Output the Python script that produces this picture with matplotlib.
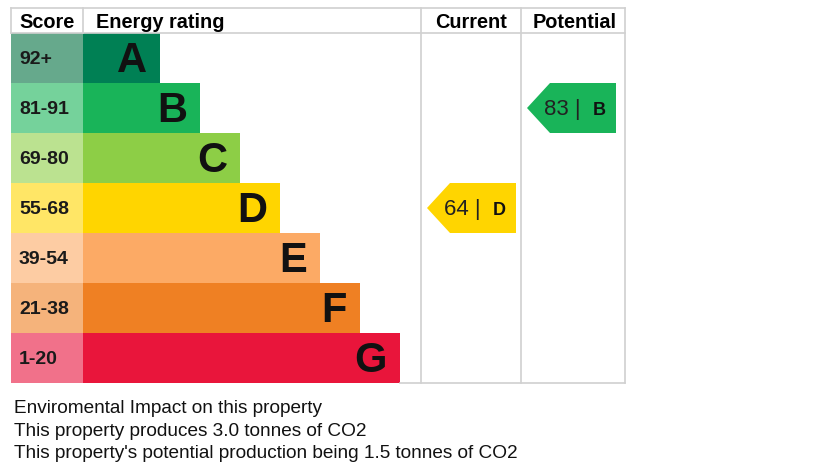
import matplotlib
matplotlib.use("Agg")
import matplotlib.pyplot as plt
from matplotlib.patches import Polygon

plt.rcParams['font.family'] = ['Liberation Sans', 'DejaVu Sans']

# bands of the rating table, top to bottom
letters = ["A", "B", "C", "D", "E", "F", "G"]
scores = ["92+", "81-91", "69-80", "55-68", "39-54", "21-38", "1-20"]
band_len = [77, 117, 157, 197, 237, 277, 317]
bar_colors = ["#008054", "#19b459", "#8dce46", "#ffd500", "#fcaa65", "#ef8023", "#e9153b"]
cell_colors = ["#66a98c", "#75d29b", "#bbe290", "#ffe666", "#fdcca3", "#f5b37b", "#f1718a"]

current_value = 64
current_band = "D"
potential_value = 83
potential_band = "B"

notes = ["Enviromental Impact on this property",
         "This property produces 3.0 tonnes of CO2",
         "This property's potential production being 1.5 tonnes of CO2"]

fig = plt.figure(figsize=(8.16, 4.76), dpi=100)
ax = fig.add_axes([0, 0, 1, 1])
ax.set_xlim(0, 816)
ax.set_ylim(476, 0)
ax.axis("off")

top, head, row_h = 8, 33, 50
x_left, x_bar, x_cur, x_pot, x_right = 11, 83, 421, 521, 625
ys = [head + row_h * (i + 0.5) for i in range(len(letters))]
bottom = head + row_h * len(letters)

# score cells and bars
ax.barh(ys, [x_bar - x_left] * len(ys), left=x_left, height=row_h, color=cell_colors, lw=0)
ax.barh(ys, band_len, left=x_bar, height=row_h, color=bar_colors, lw=0)
for y, s, l, L in zip(ys, scores, letters, band_len):
    ax.text(x_left + 8, y + 5.5, s, ha="left", va="baseline", fontsize=14, fontweight="bold", color="#1a1a1a")
    ax.text(x_bar + L - 13, y + 14.5, l, ha="right", va="baseline", fontsize=30, fontweight="bold", color="#111111")

# grid lines
gc = "#d0d0d0"
lw = 1.2
ax.plot([x_left, x_right], [top, top], color=gc, lw=lw)
ax.plot([x_left, x_right], [head, head], color=gc, lw=lw)
ax.plot([x_left, x_left], [top, head], color=gc, lw=lw)
ax.plot([x_bar, x_bar], [top, head], color=gc, lw=lw)
for x in (x_cur, x_pot, x_right):
    ax.plot([x, x], [top, bottom], color=gc, lw=lw)
ax.plot([x_bar + band_len[-1], x_right], [bottom, bottom], color=gc, lw=lw)

# headers
hy = 28
hfs = 14.3
ax.text((x_left + x_bar) / 2, hy, "Score", ha="center", va="baseline", fontsize=hfs, fontweight="bold")
ax.text(x_bar + 13, hy, "Energy rating", ha="left", va="baseline", fontsize=hfs, fontweight="bold")
ax.text((x_cur + x_pot) / 2, hy, "Current", ha="center", va="baseline", fontsize=hfs, fontweight="bold")
ax.text((x_pot + x_right) / 2 + 2, hy, "Potential", ha="center", va="baseline", fontsize=hfs, fontweight="bold")


def arrow(col_l, value, band):
    i = letters.index(band)
    yc = ys[i]
    y0, y1 = yc - row_h / 2, yc + row_h / 2
    tip = col_l + 6
    body = tip + 23
    right = tip + 89
    ax.add_patch(Polygon([(tip, yc), (body, y0), (right, y0), (right, y1), (body, y1)],
                         closed=True, color=bar_colors[i], lw=0))
    ax.text(tip + 17, yc + 7, "%d |" % value, ha="left", va="baseline", fontsize=16, color="#222222")
    ax.text(right - 10, yc + 7, band, ha="right", va="baseline", fontsize=13, fontweight="bold", color="#111111")


arrow(x_cur, current_value, current_band)
arrow(x_pot, potential_value, potential_band)

for k, t in enumerate(notes):
    ax.text(14, 413 + 22.5 * k, t, ha="left", va="baseline", fontsize=13.7, color="#111111")

fig.savefig("out.png", dpi=100)
